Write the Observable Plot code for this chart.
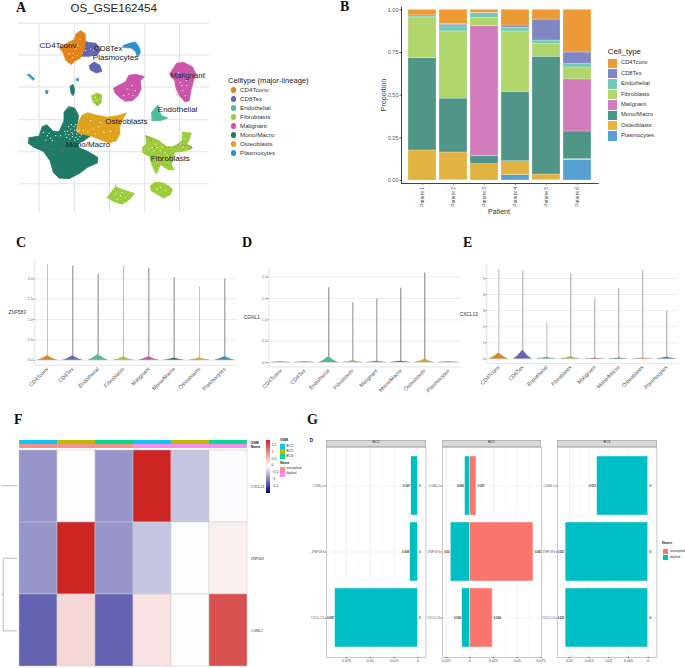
<!DOCTYPE html>
<html><head><meta charset="utf-8">
<script src="https://cdn.jsdelivr.net/npm/d3@7"></script>
<script src="https://cdn.jsdelivr.net/npm/@observablehq/plot@0.6"></script>
<style>
html,body{margin:0;padding:0;background:#fff;font-family:"Liberation Sans",Arial,sans-serif}
#page{position:relative;width:685px;height:668px;overflow:hidden}
#page div.t{position:absolute;white-space:nowrap;line-height:1}
#page div.s{position:absolute}
</style></head><body><div id="page"></div>
<script>
// ---------- shared categories ----------
const cellTypes = ["CD4Tconv","CD8Tex","Endothelial","Fibroblasts","Malignant","Mono/Macro","Osteoblasts","Plasmocytes"];
const umapColors = ["#E5831B","#5F67B4","#4DBB9C","#9CCB3C","#CB55A9","#1F7A68","#DFA31E","#2E8FCF"];
const barColors  = ["#EB9A35","#8187C2","#76C9B2","#AFD56B","#D37CBC","#4F9588","#E2B340","#57A0D3"];

// ---------- A: UMAP outlines (embedding units, arbitrary, no tick labels) ----------
const umapGridX = [115,221,327,433,538];
const umapGridY = [68,163,259,357,453,549];
const monoMain = [[205,318],[222,322],[234,345],[230,370],[225,392],[245,398],[270,405],[250,420],[232,428],[236,442],[262,452],[292,470],[290,487],[262,499],[238,517],[205,534],[175,532],[158,515],[148,480],[128,452],[100,440],[83,428],[84,411],[115,406],[124,378],[138,372],[158,392],[175,393],[190,360],[190,335]];
const monoSmall = [[210,255],[218,252],[222,270],[218,285],[212,280],[209,265]];
const osteoMain = [[230,372],[245,343],[262,336],[285,343],[320,350],[350,345],[378,337],[367,355],[358,375],[358,400],[347,420],[325,427],[300,417],[275,407],[255,402],[232,397]];
const cd4Main = [[176,140],[205,126],[222,116],[226,100],[240,90],[254,100],[254,125],[250,150],[240,172],[222,182],[212,192],[196,180],[188,158]];
const cd8Main = [[250,120],[264,126],[286,128],[300,145],[292,162],[265,167],[240,167],[234,150],[240,130]];
const cd8Low = [[266,195],[280,184],[298,194],[304,212],[288,217],[270,209]];
const plasmaMain = [[368,135],[390,127],[405,124],[416,140],[420,155],[412,170],[405,152],[392,142],[370,141]];
const plasmaA = [[80,222],[85,220],[102,235],[97,238]];
const plasmaB = [[135,270],[142,270],[140,280],[136,278]];
const plasmaC = [[228,234],[234,234],[234,240],[228,240]];
const fibroSmall = [[273,285],[290,277],[303,282],[302,306],[290,316],[278,304]];
const fibroMain = [[426,440],[438,430],[436,404],[447,408],[472,418],[500,438],[515,438],[530,432],[545,420],[547,394],[573,397],[566,420],[560,430],[577,440],[572,446],[545,452],[522,454],[520,476],[512,490],[522,507],[505,507],[480,492],[468,520],[456,496],[448,468],[428,456]];
const fibroLowA = [[320,590],[345,558],[360,564],[380,571],[402,578],[386,597],[365,610],[340,602]];
const fibroLowB = [[450,555],[465,544],[490,547],[517,565],[510,581],[490,592],[470,580],[453,570]];
const malignantA = [[340,262],[360,251],[375,244],[385,224],[405,221],[432,228],[420,240],[422,265],[412,286],[396,300],[375,302],[358,291],[343,276]];
const malignantB = [[508,220],[529,188],[550,185],[577,199],[587,220],[580,240],[572,270],[567,300],[555,304],[538,286],[528,265],[523,240]];
const endoMain = [[454,335],[472,313],[476,330],[484,345],[502,352],[480,360],[456,360]];
const clusters = [
  [monoMain,"Mono/Macro"],[monoSmall,"Mono/Macro"],[osteoMain,"Osteoblasts"],[cd8Main,"CD8Tex"],[cd4Main,"CD4Tconv"],[cd8Low,"CD8Tex"],
  [plasmaMain,"Plasmocytes"],[plasmaA,"Plasmocytes"],[plasmaB,"Plasmocytes"],[plasmaC,"Plasmocytes"],[fibroSmall,"Fibroblasts"],[fibroMain,"Fibroblasts"],
  [fibroLowA,"Fibroblasts"],[fibroLowB,"Fibroblasts"],[malignantA,"Malignant"],[malignantB,"Malignant"],[endoMain,"Endothelial"]];
const whiteSpecks = [[200,392],[210,385],[222,388],[205,402],[215,408],[228,400],[238,408],[232,416],[222,418],[195,400],[180,405],[140,405],[150,412],[128,395],[135,418],[165,405],[248,390],[262,392],[280,385],[295,378],[310,395],[330,392],[285,400],[300,365],[270,360],
  [204,378],[214,395],[226,410],[208,415],[198,410],[220,378],[232,392],[242,402],[216,400],[192,392],[236,388],[225,372],[145,398],[155,420],[212,372],
  [470,440],[480,450],[495,455],[460,450],[475,465],[490,475],[505,470],[445,445],[540,430],[552,415],[548,440],[485,440],[465,430],[500,462],[470,478],[455,440],[360,585],[345,580],[375,590],[350,595],[365,575],[480,560],[495,570],[470,565],
  [550,230],[540,245],[560,255],[548,270],[555,285],[535,215],[565,225],[545,255],[558,240],[395,255],[385,280],[405,270],[370,285],[380,265],[398,285],[212,130],[225,145],[205,160],[215,170],[238,115],[232,135],[218,158],[230,165],[270,145],[280,150],[255,150],[290,298],[285,290]];
const orangeSpecks = [[265,135],[275,155],[255,140],[240,105],[530,282],[215,395],[150,445],[185,450]];
const tealSpecks = [[205,170],[290,205],[280,200],[375,275],[410,270],[290,310],[295,285],[462,440],[505,440],[345,555],[505,555]];
const pinkSpecks = [[440,408],[446,412],[452,418],[535,432],[545,433],[555,434],[565,436],[572,440]];
const umapLabels = ["CD4Tconv","CD8Tex","Plasmocytes","Malignant","Endothelial","Osteoblasts","Mono/Macro","Fibroblasts"];
const umapLabelX = [172,323,345,562,532,378,262,510];
const umapLabelY = [134,144,171,225,325,363,431,473];

// ---------- B: stacked proportions ----------
const patients = ["Patient 1","Patient 2","Patient 3","Patient 4","Patient 5","Patient 6"];
const propPlasmocytes = [0,.005,0,.031,.004,.119];
const propOsteoblasts = [.176,.159,.096,.082,.031,.006];
const propMonoMacro   = [.541,.316,.047,.407,.690,.162];
const propMalignant   = [0,0,.761,0,0,.305];
const propFibroblasts = [.238,.393,.049,.353,.074,.070];
const propEndothelial = [.006,.037,.026,.023,.021,.020];
const propCD8Tex      = [.006,.008,.003,.012,.123,.068];
const propCD4Tconv    = [.033,.082,.018,.092,.057,.250];
const propByType = {CD4Tconv:propCD4Tconv,CD8Tex:propCD8Tex,Endothelial:propEndothelial,Fibroblasts:propFibroblasts,Malignant:propMalignant,"Mono/Macro":propMonoMacro,Osteoblasts:propOsteoblasts,Plasmocytes:propPlasmocytes};

// ---------- C, D, E: violins ----------
const znfMax  = [2.36,2.32,2.11,2.31,2.26,2.03,1.80,2.00];
const znfPeak = [.10,.10,.13,.07,.08,.05,.05,.08];
const cgnMax  = [0,0,1.75,1.40,1.49,1.74,2.10,0];
const cgnPeak = [.01,.01,.13,.04,.025,.025,.07,.01];
const cxcMax  = [5.58,5.48,2.30,5.29,3.75,4.38,5.52,2.97];
const cxcPeak = [.33,.50,.08,.12,.04,.04,.04,.10];

// ---------- F: heatmap ----------
const heatGenes = ["CXCL13","ZNF583","CGNL1"];
const heatSamples = ["s1","s2","s3","s4","s5","s6"];
const heatCXCL13 = [-.80,.02,-.80,1.88,-.44,-.03];
const heatZNF583 = [-.80,1.88,-.80,-.44,.02,.14];
const heatCGNL1  = [-1.2,.34,-1.2,.25,.02,1.5];
const sampleGSM  = ["BC2","BC5","BC6","BC2","BC5","BC6"];
const sampleName = ["aneuploid","aneuploid","aneuploid","diploid","diploid","diploid"];
const gsmLevels = ["BC2","BC5","BC6"];
const gsmColors = ["#0BC5F2","#BDB800","#06D98C"];
const nameLevels = ["aneuploid","diploid"];
const nameColors = ["#F8918A","#F98CF0"];
const colorbarTicks = ["1.5","1","0.5","0","−0.5","−1","−1.5"];

// ---------- G: diverging bars ----------
const divGenes = ["CGNL1","ZNF583","CXCL13"];
const bc2Diploid = [.007,.008,.087];
const bc2Aneuploid = [0,0,0];
const bc5Diploid = [.005,.02,.008];
const bc5Aneuploid = [.007,.067,.024];
const bc6Diploid = [.013,.021,.021];
const bc6Aneuploid = [0,0,0];

// ---------- page helpers ----------
const page = document.getElementById("page");
const FONT = '"Liberation Sans",Arial,sans-serif';
function mount(plot,left,top){plot.style.position="absolute";plot.style.left=left+"px";plot.style.top=top+"px";plot.style.background="transparent";plot.style.overflow="visible";plot.style.fontFamily=FONT;page.appendChild(plot);return plot;}
function label(text,x,y,o={}){const d=document.createElement("div");d.className="t";d.textContent=text;
  d.style.left=x+"px";d.style.top=y+"px";d.style.fontSize=(o.size||6)+"px";d.style.color=o.color||"#333";
  if(o.weight)d.style.fontWeight=o.weight;if(o.family)d.style.fontFamily=o.family;
  d.style.transform=(o.center?"translate(-50%,-50%)":"translateY(-50%)")+(o.rotate?` rotate(${o.rotate}deg)`:"");page.appendChild(d);return d;}
function swatch(x,y,w,h,color,round){const d=document.createElement("div");d.className="s";d.style.cssText+=`left:${x}px;top:${y}px;width:${w}px;height:${h}px;background:${color};`+(round?"border-radius:50%;":"");page.appendChild(d);return d;}
const SERIF='"Liberation Serif",serif';
[["A",16,8],["B",340,7],["C",16,243],["D",242,243],["E",463,243],["F",14,420],["G",307,420]].forEach(([t,x,y])=>label(t,x,y,{size:14,weight:"bold",family:SERIF,color:"#111"}));

// ---------- A ----------
const umapRows = c => c[0].map(p=>({x:p[0],y:p[1]}));
mount(Plot.plot({width:210,height:212,marginLeft:18,marginRight:1,marginTop:22.7,marginBottom:0,
  x:{domain:[53,628],axis:null},y:{domain:[635,68],axis:null},
  marks:[
    Plot.ruleX(umapGridX,{stroke:"#e2e2e2",strokeWidth:1}),
    Plot.ruleY(umapGridY,{stroke:"#e2e2e2",strokeWidth:1}),
    ...clusters.map(c=>{const col=umapColors[cellTypes.indexOf(c[1])];return Plot.line(umapRows(c),{x:"x",y:"y",fill:col,stroke:col,strokeWidth:.8,curve:"linear-closed"});}),
    Plot.dot(whiteSpecks,{x:"0",y:"1",r:.6,fill:"white"}),
    Plot.dot(orangeSpecks,{x:"0",y:"1",r:.5,fill:umapColors[0]}),
    Plot.dot(tealSpecks,{x:"0",y:"1",r:.5,fill:umapColors[5]}),
    Plot.dot(pinkSpecks,{x:"0",y:"1",r:.7,fill:umapColors[4]}),
    Plot.text(umapLabels,{x:(d,i)=>umapLabelX[i],y:(d,i)=>umapLabelY[i],fontSize:8,fill:"#222"})
  ]}),0,0);
label("OS_GSE162454",70.5,8,{size:11.6,color:"#222"});
label("Celltype (major-lineage)",228,80.5,{size:7.6,color:"#222"});
cellTypes.forEach((c,i)=>{const y=90+9*i;swatch(231,y-2.6,5.2,5.2,umapColors[i],true);label(c,240,y,{size:6.2,color:"#333"});});

// ---------- B ----------
const stackOrder = ["Plasmocytes","Osteoblasts","Mono/Macro","Malignant","Fibroblasts","Endothelial","CD8Tex","CD4Tconv"];
const propRows = stackOrder.flatMap(t=>patients.map((p,i)=>({patient:p,type:t,value:propByType[t][i]})));
mount(Plot.plot({width:270,height:225,marginLeft:71,marginRight:2.3,marginTop:6.7,marginBottom:42,
  x:{domain:patients,paddingInner:.105,paddingOuter:0,insetLeft:5,insetRight:5,label:null},
  y:{domain:[-.0176,1.0152],label:null},
  color:{domain:cellTypes,range:barColors},
  marks:[
    Plot.barY(propRows,{x:"patient",y:"value",z:"type",fill:"type",order:stackOrder,stroke:"#fff",strokeWidth:.25}),
    Plot.frame({anchor:"left",stroke:"#444",strokeWidth:1}),
    Plot.frame({anchor:"bottom",stroke:"#444",strokeWidth:1}),
    Plot.axisY({ticks:[0,.25,.5,.75,1],tickFormat:d3.format(".2f"),fontSize:5.5,tickSize:1.5,tickPadding:1.5,color:"#555",label:null}),
    Plot.axisX({fontSize:5,tickSize:1.5,tickPadding:2,tickRotate:-90,color:"#555",label:null})
  ]}),330,0);
label("Proportion",382.7,95,{size:7,color:"#333",center:true,rotate:-90});
label("Patient",499,210.7,{size:7,color:"#333",center:true});
label("Cell_type",607.7,52,{size:8,color:"#222"});
cellTypes.forEach((c,i)=>{const y=63.3+10.4*i;swatch(607.7,y-4.8,9.6,9.6,barColors[i]);label(c,621,y,{size:5.8,color:"#333"});});

// ---------- C, D, E ----------
function violin({gene,tops,peaks,widths,ticks,tickFmt,frameLeft,frameRight,frameTop,frameBottom,zeroPx,unitPx,left,shades}){
  const top=frameTop-9,marginBottom=35,height=frameBottom-frameTop+9+marginBottom;
  const outline=cellTypes.flatMap((c,i)=>[
    {c,i,y:0,x1:i-widths[i],x2:i+widths[i]},
    {c,i,y:peaks[i]*.35,x1:i-widths[i]*.55,x2:i+widths[i]*.55},
    {c,i,y:peaks[i],x1:i-.02,x2:i+.02}]);
  mount(Plot.plot({width:frameRight-left+2,height,marginLeft:frameLeft-left,marginRight:2,marginTop:9,marginBottom,
    x:{domain:[-.5,7.5],label:null},
    y:{domain:[(zeroPx-frameBottom)/unitPx,(zeroPx-frameTop)/unitPx],label:null},
    color:{domain:cellTypes,range:umapColors},
    marks:[
      Plot.gridY(ticks,{stroke:"#ececec",strokeOpacity:1,strokeWidth:1}),
      Plot.frame({anchor:"left",stroke:"#ddd",strokeWidth:.8}),
      Plot.frame({anchor:"bottom",stroke:"#eaeaea",strokeWidth:1.2}),
      Plot.ruleX(cellTypes.map((c,i)=>i),{x:d=>d,y1:0,y2:d=>tops[d],stroke:d=>shades[d],strokeWidth:1.1}),
      Plot.areaX(outline,{x1:"x1",x2:"x2",y:"y",z:"c",fill:"c",stroke:"#777",strokeWidth:.2}),
      Plot.axisY(ticks,{tickFormat:tickFmt,fontSize:3.6,tickSize:1,tickPadding:1,color:"#666",label:null}),
      Plot.axisX(cellTypes.map((c,i)=>i),{tickFormat:i=>cellTypes[i],tickRotate:-45,fontSize:5.4,tickSize:0,tickPadding:3,color:"#555",label:null}),
      Plot.text([gene],{frameAnchor:"left",dx:-9,textAnchor:"end",fontSize:4.8,fill:"#333"})
    ]}),left,top);
}
const violinWidth = [.38,.38,.38,.38,.38,.38,.38,.38];
const shadesC = ["#c6c6c6","#8e8e8e","#8e8e8e","#bdbdbd","#8e8e8e","#8e8e8e","#c6c6c6","#8e8e8e"];
const shadesD = ["#888","#888","#8a8a8a","#999","#999","#8a8a8a","#8a8a8a","#888"];
const shadesE = ["#c0c0c0","#b0b0b8","#c6c6c6","#b0b0b0","#b0b0b0","#b0b0b0","#b0b0b0","#b0b0b0"];
violin({gene:"ZNF583",tops:znfMax,peaks:znfPeak,widths:violinWidth,ticks:[0,.5,1,1.5,2],tickFmt:d3.format(".1f"),frameLeft:34.3,frameRight:237,frameTop:259.3,frameBottom:365,zeroPx:360,unitPx:40.65,left:0,shades:shadesC});
violin({gene:"CGNL1",tops:cgnMax,peaks:cgnPeak,widths:violinWidth,ticks:[0,.5,1,1.5,2],tickFmt:d3.format(".1f"),frameLeft:268.3,frameRight:460.3,frameTop:268.3,frameBottom:366.7,zeroPx:362.3,unitPx:42.65,left:238,shades:shadesD});
violin({gene:"CXCL13",tops:cxcMax,peaks:cxcPeak,widths:violinWidth,ticks:[0,1,2,3,4,5],tickFmt:d3.format("d"),frameLeft:486.3,frameRight:678.3,frameTop:264.3,frameBottom:363.3,zeroPx:358.7,unitPx:16.08,left:456,shades:shadesE});

// ---------- F ----------
const heatByGene = {CXCL13:heatCXCL13,ZNF583:heatZNF583,CGNL1:heatCGNL1};
const heatRows = heatGenes.flatMap(g=>heatSamples.map((s,i)=>({gene:g,sample:s,v:heatByGene[g][i]})));
const HEAT_LOW="#00007F",HEAT_MID="#FFFFFF",HEAT_HIGH="#CC2222";
mount(Plot.plot({width:290,height:217.7,marginLeft:16.3,marginRight:40.7,marginTop:0,marginBottom:0,
  x:{domain:heatSamples,padding:0,axis:null},y:{domain:heatGenes,padding:0,label:null},
  color:{type:"linear",domain:[-1.95,0,1.9],range:[HEAT_LOW,HEAT_MID,HEAT_HIGH],interpolate:"rgb"},
  marks:[
    Plot.cell(heatRows,{x:"sample",y:"gene",fill:"v",stroke:"#c9c9c9",strokeWidth:.5}),
    Plot.axisY({anchor:"right",fontSize:3.6,tickSize:0,tickPadding:1,color:"#333",label:null})
  ]}),0,449);
const annotRows = heatSamples.flatMap((s,i)=>[
  {sample:s,track:"GSM",fill:gsmColors[gsmLevels.indexOf(sampleGSM[i])]},
  {sample:s,track:"Name",fill:nameColors[nameLevels.indexOf(sampleName[i])]}]);
mount(Plot.plot({width:290,height:8.4,marginLeft:16.3,marginRight:40.7,marginTop:0,marginBottom:0,
  x:{domain:heatSamples,padding:0,axis:null},y:{domain:["GSM","Name"],padding:.1,label:null},
  marks:[Plot.cell(annotRows,{x:"sample",y:"track",fill:"fill"}),
    Plot.axisY({anchor:"right",fontSize:3.6,fontWeight:"bold",tickSize:0,tickPadding:1,color:"#222",label:null})]}),0,440);
// dendrogram: merge heights, row positions
const dendroLinks = [
  {h1:.94,r1:.5,h2:0,r2:.5},{h1:.94,r1:2,h2:.836,r2:2},
  {h1:.836,r1:1.5,h2:.836,r2:2.5},{h1:.836,r1:1.5,h2:0,r2:1.5},{h1:.836,r1:2.5,h2:0,r2:2.5}];
mount(Plot.plot({width:16.3,height:217.7,margin:0,x:{domain:[1,0],axis:null},y:{domain:[3,0],axis:null},
  marks:[Plot.link(dendroLinks,{x1:"h1",y1:"r1",x2:"h2",y2:"r2",stroke:"#aaa",strokeWidth:.8})]}),0,449);
const cb=swatch(266.3,440,3.4,53.3,"#fff");
cb.style.background=`linear-gradient(to bottom,${HEAT_HIGH},${HEAT_MID} 49.4%,${HEAT_LOW})`;
colorbarTicks.forEach((t,i)=>label(t,271.5,445.7+6.9*i,{size:3.5,color:"#333"}));
label("GSM",280,441,{size:3.5,weight:"bold",color:"#222"});
gsmLevels.forEach((t,i)=>{const y=444+5*i;swatch(280,y,5,5,gsmColors[i]);label(t,286.3,y+2.5,{size:3.5,color:"#333"});});
label("Name",280,464,{size:3.5,weight:"bold",color:"#222"});
nameLevels.forEach((t,i)=>{const y=466.7+5.2*i;swatch(280,y,5,5,nameColors[i]);label(t,286.3,y+2.5,{size:3.5,color:"#333"});});

// ---------- G ----------
const divColors = ["#F8766D","#00BFC4"];
function facet({name,diploid,aneuploid,panelLeft,panelRight,zero,unit,ticks,minor,fmtD,fmtA}){
  const left=panelLeft-26;
  const rows=divGenes.flatMap((g,i)=>[{g,v:-diploid[i],k:"diploid",t:fmtD(diploid[i])},{g,v:aneuploid[i],k:"aneuploid",t:fmtA(aneuploid[i])}]);
  mount(Plot.plot({width:panelRight-left+1,height:222,marginLeft:26,marginRight:1,marginTop:0,marginBottom:12,
    x:{domain:[(panelLeft-zero)/unit,(panelRight-zero)/unit],label:null},
    y:{domain:divGenes,paddingInner:.104,paddingOuter:.14,label:null},
    color:{domain:["aneuploid","diploid"],range:divColors},
    marks:[
      Plot.gridX(minor,{stroke:"#f3f3f3",strokeOpacity:1,strokeWidth:.5}),
      Plot.gridX(ticks,{stroke:"#ededed",strokeOpacity:1,strokeWidth:.7}),
      Plot.gridY({stroke:"#ededed",strokeOpacity:1,strokeWidth:.7}),
      Plot.barX(rows,{x:"v",y:"g",fill:"k",stroke:"#fff",strokeWidth:.4}),
      Plot.text(rows.filter(d=>d.k==="diploid"),{x:"v",y:"g",text:"t",textAnchor:"end",dx:-1.2,fontSize:2.8,fontWeight:"bold",fill:"#333"}),
      Plot.text(rows.filter(d=>d.k==="aneuploid"),{x:"v",y:"g",text:"t",textAnchor:"start",dx:1.2,fontSize:2.8,fontWeight:"bold",fill:"#333"}),
      Plot.frame({stroke:"#c4c4c4",strokeWidth:.9}),
      Plot.axisX(ticks,{tickFormat:d=>String(Math.abs(d)),fontSize:3.6,tickSize:1,tickPadding:1,color:"#444",label:null}),
      Plot.axisY({fontSize:3.5,tickSize:1.5,tickPadding:1,color:"#666",label:null})
    ]}),left,446.7);
  const st=swatch(panelLeft,440,panelRight-panelLeft,6.7,"#D9D9D9");st.style.boxSizing="border-box";st.style.border=".6px solid #b5b5b5";
  label(name,(panelLeft+panelRight)/2,443.4,{size:3.5,color:"#333",center:true});
}
const f3 = v=>String(v);
facet({name:"BC2",diploid:bc2Diploid,aneuploid:bc2Aneuploid,panelLeft:326.3,panelRight:425.7,zero:417.7,unit:950.7,ticks:[-.075,-.05,-.025,0],minor:[-.0875,-.0625,-.0375,-.0125],fmtD:f3,fmtA:f3});
facet({name:"BC5",diploid:bc5Diploid,aneuploid:bc5Aneuploid,panelLeft:441.7,panelRight:541,zero:469,unit:950,ticks:[-.025,0,.025,.05,.075],minor:[-.0125,.0125,.0375,.0625],fmtD:f3,fmtA:f3});
facet({name:"BC6",diploid:bc6Diploid,aneuploid:bc6Aneuploid,panelLeft:557.3,panelRight:656.7,zero:648,unit:3933,ticks:[-.02,-.015,-.01,-.005,0],minor:[-.0175,-.0125,-.0075,-.0025],fmtD:f3,fmtA:f3});
label("D",309.7,441,{size:4.6,weight:"bold",color:"#222",family:FONT});
label("Name",662,544,{size:3.8,weight:"bold",color:"#333"});
nameLevels.forEach((t,i)=>{const y=548.7+6*i;swatch(662.7,y,5.6,5.6,divColors[i]);label(t,670,y+2.8,{size:3.5,color:"#333"});});
</script></body></html>
